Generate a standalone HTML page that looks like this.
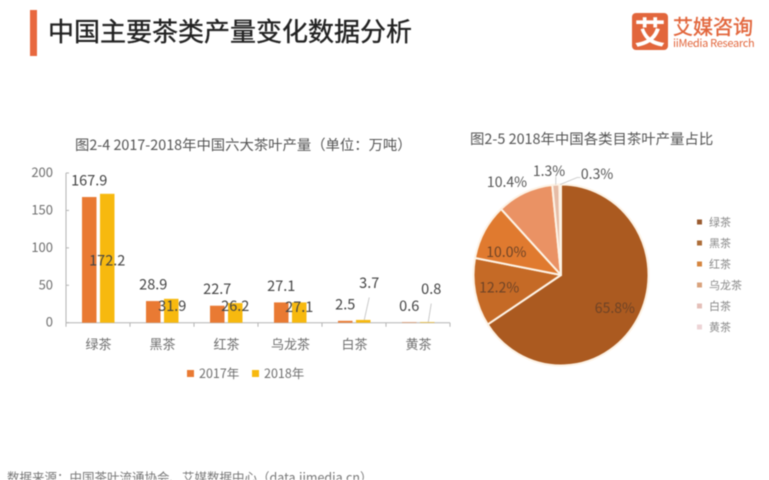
<!DOCTYPE html>
<html lang="zh">
<head>
<meta charset="utf-8">
<title>中国主要茶类产量变化数据分析</title>
<style>
html,body{margin:0;padding:0;background:#fff;}
#stage{position:relative;width:769px;height:480px;overflow:hidden;background:#fff;filter:blur(0.4px);font-family:"Noto Sans CJK SC","Liberation Sans",sans-serif;}
#stage svg{position:absolute;left:0;top:0;}
.abs{position:absolute;white-space:nowrap;}
</style>
</head>
<body>
<div id="stage">
  <div class="abs" style="left:30px;top:10px;width:7px;height:46px;background:#e8683f;"></div>
  <div class="abs" style="left:48px;top:14px;font-size:26px;line-height:34px;color:#222;font-weight:400;-webkit-text-stroke:0.35px #222;">中国主要茶类产量变化数据分析</div>
  <div class="abs" style="left:632px;top:13px;width:36px;height:37px;background:#e2663c;border-radius:4px;color:#fff;font-size:31px;line-height:36px;text-align:center;font-weight:700;">艾</div>
  <div class="abs" style="left:673px;top:13px;font-size:20px;line-height:26px;color:#e2663c;font-weight:400;-webkit-text-stroke:0.4px #e2663c;">艾媒咨询</div>
  <div class="abs" style="left:673px;top:37px;font-size:11px;line-height:13px;color:#e2663c;letter-spacing:-0.3px;">iiMedia Research</div>
  <div class="abs" style="left:75px;top:135px;font-size:14.35px;line-height:20px;color:#555;">图2-4 2017-2018年中国六大茶叶产量（单位：万吨）</div>
  <div class="abs" style="left:470px;top:129px;font-size:14.4px;line-height:20px;color:#555;">图2-5 2018年中国各类目茶叶产量占比</div>
  <div class="abs" style="left:7px;top:468px;font-size:12.5px;line-height:18px;color:#777;">数据来源：中国茶叶流通协会、艾媒数据中心（data.iimedia.cn）</div>
  <svg id="chart" width="769" height="480" viewBox="0 0 769 480"></svg>
</div>
<script>
const barCategories = ['绿茶', '黑茶', '红茶', '乌龙茶', '白茶', '黄茶'];
const series2017 = [167.9, 28.9, 22.7, 27.1, 2.5, 0.6];
const series2018 = [172.2, 31.9, 26.2, 27.1, 3.7, 0.8];
const seriesNames = ['2017年', '2018年'];
const yTicks = [0, 50, 100, 150, 200];
const pieCategories = ['绿茶', '黑茶', '红茶', '乌龙茶', '白茶', '黄茶'];
const pieValues = [65.8, 12.2, 10.0, 10.4, 1.3, 0.3];

const svg = document.getElementById('chart');
const NS = 'http://www.w3.org/2000/svg';
function mk(tag, attrs, text) {
  const el = document.createElementNS(NS, tag);
  for (const k in attrs) el.setAttribute(k, attrs[k]);
  if (text !== undefined) el.textContent = text;
  svg.appendChild(el);
  return el;
}

/* bar chart axes */
const plot = { left: 66, right: 450, bottom: 322.7, top: 173 };
const yMax = 200;
function yScale(v) { return plot.bottom - (v / yMax) * (plot.bottom - plot.top); }
const catWidth = (plot.right - plot.left) / barCategories.length;
function xBand(i) { return plot.left + i * catWidth; }
const barW = 14.5;
const barColors = ['#e97a33', '#f7b90f'];
const axisColor = '#b4b4b4';

const yLine = mk('line', { x1: plot.left, x2: plot.left, y1: plot.top, y2: plot.bottom, stroke: axisColor, 'stroke-width': 1 });


const xLine = mk('line', { x1: plot.left, x2: plot.right, y1: plot.bottom, y2: plot.bottom, stroke: axisColor, 'stroke-width': 1 });



yTicks.forEach(function (t) {
  const tick = mk('line', { x1: plot.left, x2: plot.left + 3, y1: yScale(t), y2: yScale(t), stroke: axisColor });
  
  
  const lab = mk('text', { x: 53, y: yScale(t) + 4, 'text-anchor': 'end', 'font-size': 13, fill: '#6f6f6f' }, String(t));
  
  
});

for (let i = 0; i <= barCategories.length; i++) {
  const tick = mk('line', { x1: xBand(i), x2: xBand(i), y1: plot.bottom, y2: plot.bottom + 4, stroke: axisColor });
  
  
}

/* label nudges relative to each bar's top centre: [dx, dy, leader] */
const nudge2018 = [[0, 71.5], [1, 12], [0, 8], [0, 9.5], [6, -32, true], [4, -28, true]];

barCategories.forEach(function (cat, i) {
  const c = xBand(i) + catWidth / 2;
  const x17 = c - 16;
  const x18 = c + 2;
  const catLabel = mk('text', { x: c + 0.5, y: 349, 'text-anchor': 'middle', 'font-size': 13, fill: '#6f6f6f' }, cat);
  
  

  const b17 = mk('rect', { x: x17, y: yScale(series2017[i]), width: barW, height: plot.bottom - yScale(series2017[i]), fill: barColors[0] });
  
  
  const b18 = mk('rect', { x: x18, y: yScale(series2018[i]), width: barW, height: plot.bottom - yScale(series2018[i]), fill: barColors[1] });
  
  
});

barCategories.forEach(function (cat, i) {
  const c = xBand(i) + catWidth / 2;
  const cx17 = c - 16 + barW / 2;
  const cx18 = c + 2 + barW / 2;
  const n18 = nudge2018[i];
  const l17 = mk('text', { x: cx17, y: yScale(series2017[i]) - 11.5, 'text-anchor': 'middle', 'font-size': 14.5, fill: '#444' }, series2017[i].toFixed(1));
  
  
  const ly = yScale(series2018[i]) + n18[1];
  const l18 = mk('text', { x: cx18 + n18[0], y: ly, 'text-anchor': 'middle', 'font-size': 14.5, fill: '#444' }, series2018[i].toFixed(1));
  
  
  if (n18[2]) {
    const leader = mk('line', { x1: cx18 + 1, y1: yScale(series2018[i]), x2: cx18 + n18[0], y2: ly + 9.5, stroke: '#bdbdbd', 'stroke-width': 0.8 });
    
    
  }
});

/* bar legend */
seriesNames.forEach(function (name, i) {
  const lx = 187 + i * 65;
  const sw = mk('rect', { x: lx, y: 370, width: 7, height: 7, fill: barColors[i] });
  
  
  const tx = mk('text', { x: lx + 12, y: 378, 'font-size': 12.5, fill: '#6f6f6f' }, name);
  
  
});

/* pie chart */
const pie = { cx: 561, cy: 275, rx: 87.5, ry: 90.5 };
const pieColors = ['#ab5a20', '#c56a26', '#e07a2f', '#ea9264', '#e6bca6', '#f3d6c8'];
const legendColors = ['#9a5b30', '#ad6d38', '#d5853f', '#d9a27c', '#e4bfb8', '#edd4d6'];
const total = pieValues.reduce(function (a, b) { return a + b; }, 0);
function piePoint(frac, k) {
  const a = frac * Math.PI * 2;
  return [pie.cx + Math.sin(a) * pie.rx * k, pie.cy - Math.cos(a) * pie.ry * k];
}
/* label placement for each slice: [radial factor, dx, dy] */
const pieLabelPlace = [[0.7, 0, 8], [0.72, 0, 5], [0.7, -1, 12.5], [1.2, -10.5, 11], [1.15, -6, 5], [1.12, 37, 5.4]];
let acc = 0;
pieValues.forEach(function (v, i) {
  const s = acc / total;
  const e = (acc + v) / total;
  acc += v;
  const p0 = piePoint(s, 1);
  const p1 = piePoint(e, 1);
  const large = e - s > 0.5 ? 1 : 0;
  const d = 'M' + pie.cx + ' ' + pie.cy + ' L' + p0[0] + ' ' + p0[1] + ' A' + pie.rx + ' ' + pie.ry + ' 0 ' + large + ' 1 ' + p1[0] + ' ' + p1[1] + ' Z';
  const slice = mk('path', { d: d, fill: pieColors[i], stroke: '#fdf3e6', 'stroke-width': 2, 'stroke-linejoin': 'round' });
  
  
});
acc = 0;
pieValues.forEach(function (v, i) {
  const mid = (acc + v / 2) / total;
  acc += v;
  const pl = pieLabelPlace[i];
  const pt = piePoint(mid, pl[0]);
  const inside = pl[0] < 1;
  const tx = mk('text', { x: pt[0] + pl[1], y: pt[1] + pl[2], 'text-anchor': 'middle', 'font-size': 14, fill: inside ? '#6e4326' : '#555' }, v.toFixed(1) + '%');
  
  
  if (!inside && i >= 4) {
    const a = piePoint(mid, 1);
    const b = i === 4 ? [a[0], a[1] - 8] : [a[0] + 17, a[1] - 7];
    const leaderPts = i === 4 ? [a, b] : [a, b, [b[0] + 3, b[1]]];
    const leader = mk('polyline', { points: leaderPts.map(function (q) { return q.join(','); }).join(' '), fill: 'none', stroke: '#c4c4c4', 'stroke-width': 0.8 });
    
    
  }
});

/* pie legend */
pieCategories.forEach(function (name, i) {
  const ly = 222 + i * 21;
  const sw = mk('rect', { x: 697, y: ly - 2.5, width: 5, height: 5, fill: legendColors[i] });
  
  
  const tx = mk('text', { x: 709, y: ly + 4, 'font-size': 11, fill: '#8a8a8a' }, name);
  
  
});
</script>
</body>
</html>
